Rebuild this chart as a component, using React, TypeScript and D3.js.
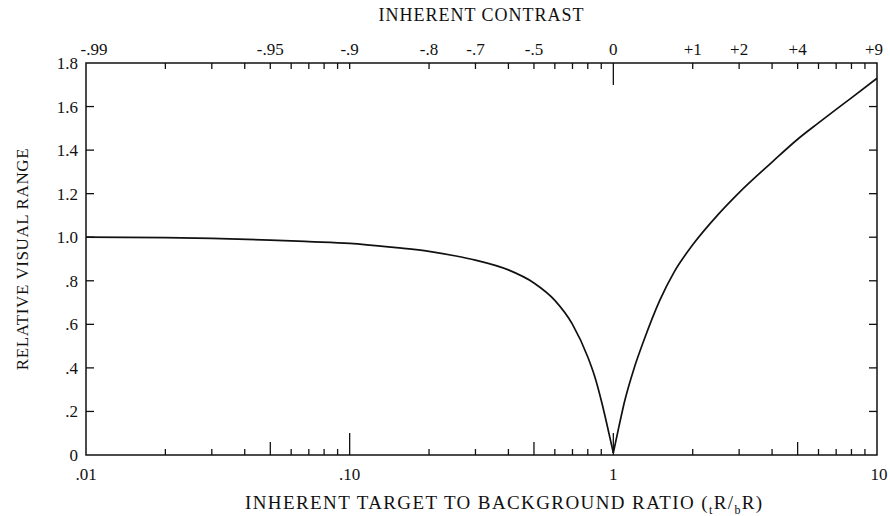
import React from 'react';
import * as d3 from 'd3';

// Inherent target-to-background ratio (tR/bR) and relative visual range
const ratio = [0.01, 0.02, 0.03, 0.05, 0.07, 0.1, 0.15, 0.2, 0.25, 0.3, 0.4, 0.5, 0.6, 0.7, 0.8, 0.85, 0.9, 0.95, 1.0, 1.05, 1.1, 1.2, 1.3, 1.5, 1.7, 2, 2.5, 3, 4, 5, 6, 7, 8, 10];
const visualRange = [1.0, 0.998, 0.995, 0.987, 0.98, 0.972, 0.952, 0.935, 0.915, 0.895, 0.85, 0.79, 0.71, 0.6, 0.45, 0.36, 0.25, 0.13, 0.01, 0.13, 0.24, 0.4, 0.52, 0.71, 0.84, 0.965, 1.105, 1.205, 1.345, 1.45, 1.525, 1.587, 1.64, 1.73];

// bottom axis
const bottomTickRatios = [0.02, 0.03, 0.04, 0.05, 0.06, 0.07, 0.08, 0.09, 0.1, 0.2, 0.3, 0.4, 0.5, 0.6, 0.7, 0.8, 0.9, 1, 2, 3, 4, 5, 6, 7, 8, 9];
const bottomLabelRatios = [0.01, 0.1, 1, 10];
const bottomLabels = ['.01', '.10', '1', '10'];

// top axis (inherent contrast = ratio - 1)
const topTickRatios = [0.02, 0.03, 0.04, 0.05, 0.06, 0.07, 0.08, 0.09, 0.1, 0.2, 0.3, 0.4, 0.5, 0.6, 0.7, 0.8, 0.9, 1, 2, 3, 4, 5, 6, 7, 8, 9];
const topLabelRatios = [0.01, 0.05, 0.1, 0.2, 0.3, 0.5, 1, 2, 3, 5, 10];
const topLabels = ['-.99', '-.95', '-.9', '-.8', '-.7', '-.5', '0', '+1', '+2', '+4', '+9'];

// left axis
const yTicks = [0, 0.2, 0.4, 0.6, 0.8, 1.0, 1.2, 1.4, 1.6, 1.8];
const yLabels = ['0', '.2', '.4', '.6', '.8', '1.0', '1.2', '1.4', '1.6', '1.8'];

const W = 890;
const H = 516;
const M = { left: 86, right: 13, top: 63, bottom: 61 };
const FONT = '"Liberation Serif", "Times New Roman", serif';
const INK = '#111';

export default function App() {
  const x = d3.scaleLog().domain([0.01, 10]).range([M.left, W - M.right]);
  const y = d3.scaleLinear().domain([0, 1.8]).range([H - M.bottom, M.top]);
  const x0 = x.range()[0];
  const x1 = x.range()[1];
  const yb = y.range()[0];
  const yt = y.range()[1];

  const pts = ratio.map((r, i) => [r, visualRange[i]] as [number, number]);
  const tipIdx = ratio.indexOf(1.0);
  const line = d3
    .line<[number, number]>()
    .x((d) => x(d[0]))
    .y((d) => y(d[1]))
    .curve(d3.curveMonotoneX);
  const leftPath = line(pts.slice(0, tipIdx + 1)) || '';
  const rightPath = line(pts.slice(tipIdx)) || '';

  const bottomLen = (r: number) => {
    if (Math.abs(r - 0.1) < 1e-9 || Math.abs(r - 1) < 1e-9) return 22;
    if (Math.abs(r - 0.05) < 1e-9 || Math.abs(r - 0.5) < 1e-9 || Math.abs(r - 5) < 1e-9) return 13;
    return 6;
  };
  const topLen = (r: number) => (Math.abs(r - 1) < 1e-9 ? 22 : 6);

  return (
    <svg
      width={W}
      height={H}
      style={{ position: 'absolute', left: 0, top: 0, background: '#fff' }}
      fontFamily={FONT}
    >
      <rect x={0} y={0} width={W} height={H} fill="#fff" />
      {/* frame */}
      <rect x={x0} y={yt} width={x1 - x0} height={yb - yt} fill="none" stroke={INK} strokeWidth={1.5} />

      {/* bottom ticks */}
      {bottomTickRatios.map((r) => (
        <line key={'bt' + r} x1={x(r)} x2={x(r)} y1={yb} y2={yb - bottomLen(r)} stroke={INK} strokeWidth={1.3} />
      ))}
      {/* top ticks */}
      {topTickRatios.map((r) => (
        <line key={'tt' + r} x1={x(r)} x2={x(r)} y1={yt} y2={yt + topLen(r)} stroke={INK} strokeWidth={1.3} />
      ))}
      {/* y ticks left and right */}
      {yTicks.slice(1, -1).map((v) => (
        <g key={'yt' + v}>
          <line x1={x0} x2={x0 + 8} y1={y(v)} y2={y(v)} stroke={INK} strokeWidth={1.3} />
          <line x1={x1} x2={x1 - 8} y1={y(v)} y2={y(v)} stroke={INK} strokeWidth={1.3} />
        </g>
      ))}

      {/* y labels */}
      {yTicks.map((v, i) => (
        <text key={'yl' + v} x={x0 - 8} y={y(v)} dy="0.35em" textAnchor="end" fontSize={17} fill={INK}>
          {yLabels[i]}
        </text>
      ))}

      {/* bottom labels */}
      {bottomLabelRatios.map((r, i) => (
        <text key={'bl' + r} x={x(r) + (i === 3 ? 2 : 0)} y={yb + 25} textAnchor="middle" fontSize={17} fill={INK}>
          {bottomLabels[i]}
        </text>
      ))}

      {/* top labels */}
      {topLabelRatios.map((r, i) => (
        <text
          key={'tl' + r}
          x={x(r) + (i === 0 ? 8 : i === topLabelRatios.length - 1 ? -3 : 0)}
          y={yt - 8}
          textAnchor="middle"
          fontSize={17}
          fill={INK}
        >
          {topLabels[i]}
        </text>
      ))}

      {/* curve */}
      <path d={leftPath} fill="none" stroke={INK} strokeWidth={1.7} />
      <path d={rightPath} fill="none" stroke={INK} strokeWidth={1.7} />

      {/* titles */}
      <text x={(x0 + x1) / 2} y={21} textAnchor="middle" fontSize={18} letterSpacing={1} fill={INK}>
        INHERENT CONTRAST
      </text>
      <text x={245} y={H - 7} textAnchor="start" fontSize={19} letterSpacing={1.4} fill={INK}>
        INHERENT TARGET TO BACKGROUND RATIO (
        <tspan fontSize={12} dy={5}>t</tspan>
        <tspan dy={-5}>R/</tspan>
        <tspan fontSize={12} dy={5}>b</tspan>
        <tspan dy={-5}>R)</tspan>
      </text>
      <text
        transform={`translate(22, ${(yt + yb) / 2}) rotate(-90)`}
        textAnchor="middle"
        fontSize={17}
        letterSpacing={0.6}
        fill={INK}
        dy="0.35em"
      >
        RELATIVE VISUAL RANGE
      </text>
    </svg>
  );
}
